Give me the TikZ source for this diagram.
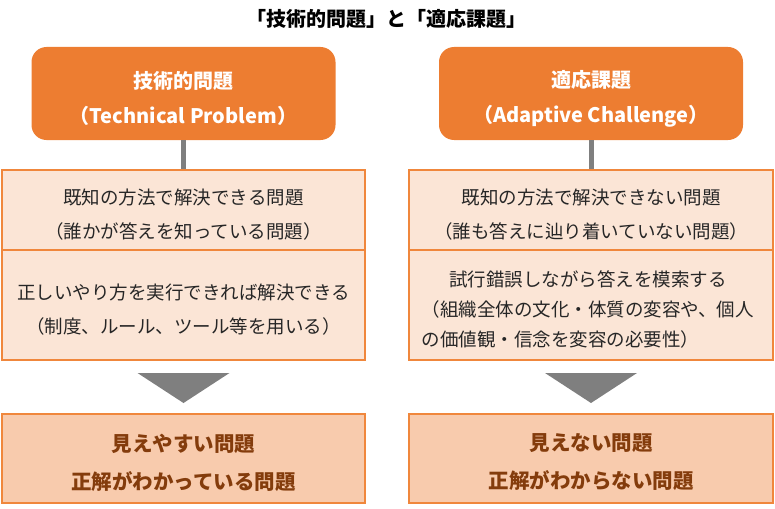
\documentclass[tikz,border=0pt]{standalone}
\usepackage{fontspec}
\setmainfont{Noto Sans CJK JP}
\usepackage{tikz}
\usetikzlibrary{positioning,calc}
\usepackage{xcolor}
\definecolor{hdrorange}{RGB}{237,125,49}
\definecolor{lightfill}{RGB}{251,229,214}
\definecolor{darkfill}{RGB}{248,203,173}
\definecolor{edgeorange}{RGB}{240,135,60}
\definecolor{stemgray}{RGB}{127,127,127}
\definecolor{brownred}{RGB}{132,60,12}
\definecolor{textgray}{RGB}{38,38,38}

\begin{document}
\begin{tikzpicture}[x=1pt,y=-1pt,
    hdr/.style={fill=hdrorange,rounded corners=15pt,minimum width=304pt,minimum height=93pt},
    hdrtext/.style={text=white,align=center,font=\fontsize{20}{35}\selectfont\bfseries},
    cell/.style={fill=lightfill,draw=edgeorange,line width=2pt,minimum width=363pt},
    celltext/.style={text=textgray,align=center,font=\fontsize{18.5}{34}\selectfont},
    result/.style={fill=darkfill,draw=edgeorange,line width=2pt,minimum width=363pt,minimum height=89pt},
    resulttext/.style={text=brownred,align=center,font=\fontsize{20.5}{38}\selectfont\bfseries},
    stem/.style={stemgray,line width=5pt}]
  \useasboundingbox (0,0) rectangle (775,508);
  \node[font=\fontsize{20}{24}\selectfont\bfseries] (title) at (386,19) {「技術的問題」と「適応課題」};
  % left column
  \node[hdr] (hdrL) at (183.5,93.5) {};
  \node[cell,minimum height=80pt] (cellLa) at (183.5,210) {};
  \node[cell,minimum height=110pt] (cellLb) at (183.5,305) {};
  \node[result] (botL) at (183.5,458.5) {};
  \node[hdrtext] (hdrLtext) at ($(hdrL)+(0,5)$) {技術的問題\\（Technical Problem）};
  \node[celltext] (cellLatext) at ($(cellLa)+(0,5)$) {既知の方法で解決できる問題\\（誰かが答えを知っている問題）};
  \node[celltext] (cellLbtext) at ($(cellLb)+(0,5)$) {正しいやり方を実行できれば解決できる\\（制度、ルール、ツール等を用いる）};
  \node[resulttext] (botLtext) at ($(botL)+(0,4)$) {見えやすい問題\\正解がわかっている問題};
  % right column
  \node[hdr] (hdrR) at (591,93.5) {};
  \node[cell,minimum width=364pt,minimum height=80pt] (cellRa) at (591,210) {};
  \node[cell,minimum width=364pt,minimum height=110pt] (cellRb) at (591,305) {};
  \node[result,minimum width=364pt] (botR) at (591,458.5) {};
  \node[hdrtext] (hdrRtext) at ($(hdrR)+(0,5)$) {適応課題\\（Adaptive Challenge）};
  \node[celltext] (cellRatext) at ($(cellRa)+(0,5)$) {既知の方法で解決できない問題\\（誰も答えに辿り着いていない問題）};
  \node[celltext,text width=333pt,align=left,font=\fontsize{18.5}{30}\selectfont] (cellRbtext) at ($(cellRb)+(-3,4)$)
    {\makebox[333pt]{試行錯誤しながら答えを模索する}\\（組織全体の文化・体質の変容や、個人\\の価値観・信念を変容の必要性）};
  \node[resulttext] (botRtext) at ($(botR)+(0,4)$) {見えない問題\\正解がわからない問題};
  \foreach \a/\b in {hdrL/cellLa,hdrR/cellRa}{
    \draw[stem] (\a) -- (\b);
  }
  \foreach \c in {cellLb,cellRb}{
    \fill[stemgray] ($(\c.south)+(-46,12)$) -- ++(92,0) -- ($(\c.south)+(0,42)$) -- cycle;
  }
\end{tikzpicture}
\end{document}
